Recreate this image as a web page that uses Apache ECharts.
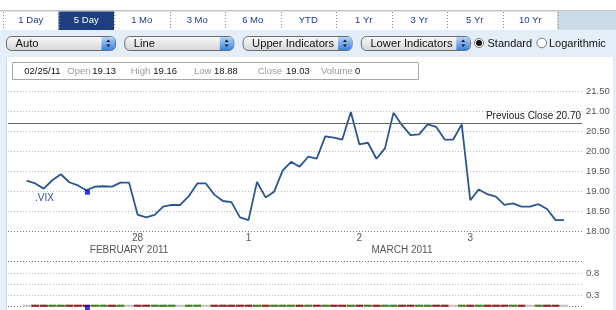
<!DOCTYPE html>
<html><head><meta charset="utf-8">
<script src="https://cdn.jsdelivr.net/npm/echarts@6/dist/echarts.min.js"></script>
<style>html,body{margin:0;padding:0;background:#fff}#c{width:616px;height:310px}</style>
</head><body><div id="c"></div><script>
// ---- data ----
const tabLabels = ['1 Day','5 Day','1 Mo','3 Mo','6 Mo','YTD','1 Yr','3 Yr','5 Yr','10 Yr'];
const activeTab = 1;
const dropdownLabels = ['Auto','Line','Upper Indicators','Lower Indicators'];
const radioLabels = ['Standard','Logarithmic'];
const quoteDate = '02/25/11';
const quoteLabels = ['Open','High','Low','Close','Volume'];
const quoteValues = ['19.13','19.16','18.88','19.03','0'];
const symbolName = '.VIX';
const closes = [19.27,19.20,19.07,19.28,19.43,19.23,19.15,19.03,19.12,19.13,19.12,19.22,19.22,
  18.42,18.35,18.41,18.62,18.66,18.66,18.88,19.20,19.20,18.92,18.76,18.73,18.35,
  18.28,19.24,18.85,18.99,19.52,19.74,19.62,19.87,19.82,20.38,20.35,20.30,20.99,
  20.18,20.22,19.82,20.08,20.97,20.66,20.41,20.43,20.68,20.62,20.30,20.30,20.68,
  18.78,19.05,18.93,18.87,18.66,18.70,18.62,18.62,18.68,18.56,18.28,18.28];
const volumes = [0,0,0,0,0,0,0,0,0,0,0,0,0,0,0,0,0,0,0,0,0,0,0,0,0,0,0,0,0,0,0,0,
  0,0,0,0,0,0,0,0,0,0,0,0,0,0,0,0,0,0,0,0,0,0,0,0,0,0,0,0,0,0,0,0];
const markerIndex = 7;
const markerValue = 19.03;
const prevClose = 20.70;
const dayLabels = ['28','1','2','3'];
const dayTickIdx = [13,26,39,52];
const monthLabels = ['FEBRUARY 2011','MARCH 2011'];
const monthTickIdx = [12,44];
const priceMin = 18, priceMax = 21.5, priceStep = 0.5;
const lowerTickLabels = ['','0.3','','0.8',''];

// ---- layout / style ----
const FF = 'Liberation Sans';
const G = [];
// top border & tab row
G.push({type:'rect', shape:{x:0,y:10,width:616,height:1.5}, style:{fill:'#c4c4c4'}});
G.push({type:'rect', shape:{x:557,y:11.5,width:59,height:19}, style:{fill:'#cbdce8'}});
// light blue panel
G.push({type:'rect', shape:{x:0,y:30,width:616,height:27}, style:{fill:'#e4eef9'}});
G.push({type:'rect', shape:{x:0,y:30,width:7,height:280}, style:{fill:'#e4eef9'}});
G.push({type:'rect', shape:{x:6,y:57,width:1,height:253}, style:{fill:'#cddcec'}});
G.push({type:'rect', shape:{x:613,y:30,width:3,height:280}, style:{fill:'#e4eef9'}});
const tabW = 55.5, tabX0 = 3;
tabLabels.forEach((t,i)=>{
  const x = tabX0 + tabW*i;
  if (i===activeTab) G.push({type:'rect', shape:{x:x,y:11.5,width:tabW,height:18.5}, style:{fill:'#1d3f7e'}});
  G.push({type:'text', x:x+tabW/2, y:20.5, style:{text:t, fontSize:9.5, fontFamily:FF, fill: i===activeTab?'#ffffff':'#1b3c8c', align:'center', verticalAlign:'middle'}});
});
for (let i=0;i<=tabLabels.length;i++){
  const x = Math.round(tabX0 + tabW*i)+0.5;
  G.push({type:'line', shape:{x1:x,y1:12,x2:x,y2:30}, style:{stroke:'#8a8a8a', lineWidth:1, lineDash:[1,2]}});
}
// dropdowns
dropdownLabels.forEach((t,i)=>{
  const x = 6.5 + 118.3*i, w = 109;
  G.push({type:'rect', shape:{x:x,y:36.5,width:w,height:14,r:5},
    style:{fill:new echarts.graphic.LinearGradient(0,0,0,1,[{offset:0,color:'#fbfbfb'},{offset:1,color:'#d4d4d4'}]), stroke:'#6c6c6c', lineWidth:1}});
  const bx = x+w-14;
  G.push({type:'rect', shape:{x:bx,y:37,width:13.5,height:13,r:[0,4,4,0]},
    style:{fill:new echarts.graphic.LinearGradient(0,0,0,1,[{offset:0,color:'#b5d5fa'},{offset:1,color:'#3c7fdf'}])}});
  const cx = bx+6.8;
  G.push({type:'polygon', shape:{points:[[cx-2,42],[cx+2,42],[cx,39.5]]}, style:{fill:'#1a1a1a'}});
  G.push({type:'polygon', shape:{points:[[cx-2,44.5],[cx+2,44.5],[cx,47]]}, style:{fill:'#1a1a1a'}});
  G.push({type:'text', x:x+9, y:43.5, style:{text:t, fontSize:11.2, fontFamily:FF, fill:'#111', verticalAlign:'middle'}});
});
// radios
G.push({type:'circle', shape:{cx:479,cy:43,r:4.5}, style:{fill:'#fff', stroke:'#777', lineWidth:1}});
G.push({type:'circle', shape:{cx:479,cy:43,r:3}, style:{fill:'#111'}});
G.push({type:'text', x:487.5, y:43.5, style:{text:radioLabels[0], fontSize:11, fontFamily:FF, fill:'#111', verticalAlign:'middle'}});
G.push({type:'circle', shape:{cx:541.7,cy:43,r:4.8}, style:{fill:'#fff', stroke:'#777', lineWidth:1}});
G.push({type:'text', x:549, y:43.5, style:{text:radioLabels[1], fontSize:11, fontFamily:FF, fill:'#111', verticalAlign:'middle'}});
// quote box
G.push({type:'rect', shape:{x:12.5,y:62.5,width:406,height:17}, style:{fill:'#fff', stroke:'#a8a8a8', lineWidth:1}});
G.push({type:'text', x:24.3, y:71, style:{text:quoteDate, fontSize:9.5, fontFamily:FF, fill:'#111', verticalAlign:'middle'}});
const qlx = [67.3,130.7,194,257.7,321], qvx = [92.3,153.3,214,286,355];
quoteLabels.forEach((l,i)=>{
  G.push({type:'text', x:qlx[i], y:71, style:{text:l, fontSize:9.5, fontFamily:FF, fill:'#9a9a9a', verticalAlign:'middle'}});
  G.push({type:'text', x:qvx[i], y:71, style:{text:quoteValues[i], fontSize:9.5, fontFamily:FF, fill:'#111', verticalAlign:'middle'}});
});
// symbol name
G.push({type:'text', x:35, y:198, style:{text:symbolName, fontSize:10, fontFamily:FF, fill:'#2a5590', verticalAlign:'middle'}});

const xMin = -2.19, xMax = 65.1;
const upColors = ['#777','#bbb','#bbb','#bbb','#bbb','#bbb','#bbb','#bbb'];
const volData = volumes.map((v,i)=>{
  let c = '#c8c8c8';
  if (i>0 && closes[i]>closes[i-1]) c = '#3f7a1c';
  else if (i>0 && closes[i]<closes[i-1]) c = '#8e1b1b';
  return {value:[i,v], itemStyle:{color:c}};
});

const chart = echarts.init(document.getElementById('c'), null, {renderer:'canvas'});
chart.setOption({
  animation:false,
  backgroundColor:'#ffffff',
  textStyle:{fontFamily:FF},
  graphic:G,
  grid:[
    {left:8, right:34, top:91.7, height:139.6},
    {left:8, right:34, top:261.7, height:45}
  ],
  xAxis:[
    {type:'value', gridIndex:0, min:xMin, max:xMax, axisLine:{show:false}, axisTick:{show:false}, splitLine:{show:false},
     axisLabel:{customValues:dayTickIdx, formatter:v=>dayLabels[dayTickIdx.indexOf(v)], color:'#555', fontSize:10, margin:2, fontFamily:FF}},
    {type:'value', gridIndex:0, position:'bottom', offset:12, min:xMin, max:xMax, axisLine:{show:false}, axisTick:{show:false}, splitLine:{show:false},
     axisLabel:{customValues:monthTickIdx, formatter:v=>monthLabels[monthTickIdx.indexOf(v)], color:'#555', fontSize:10, margin:2, fontFamily:FF}},
    {type:'value', gridIndex:1, min:xMin, max:xMax, show:false}
  ],
  yAxis:[
    {type:'value', gridIndex:0, position:'right', min:priceMin, max:priceMax, interval:priceStep,
     axisLine:{show:false}, axisTick:{show:false},
     axisLabel:{formatter:v=>v.toFixed(2), color:'#555', fontSize:9.5, margin:4, fontFamily:FF},
     splitLine:{show:true, lineStyle:{color:upColors, type:[1,2], width:1}}},
    {type:'value', gridIndex:1, position:'right', min:0, max:4, interval:1,
     axisLine:{show:false}, axisTick:{show:false},
     axisLabel:{formatter:v=>lowerTickLabels[v], color:'#555', fontSize:9.5, margin:4, fontFamily:FF},
     splitLine:{show:true, lineStyle:{color:['#777','#bbb','#bbb','#bbb','#777'], type:[1,2], width:1}}}
  ],
  series:[
    {type:'line', xAxisIndex:0, yAxisIndex:0, data:closes.map((v,i)=>[i,v]), symbol:'none',
     lineStyle:{color:'#2a5590', width:1.8}, z:3,
     markLine:{silent:true, symbol:['none','none'], data:[{yAxis:prevClose}],
       lineStyle:{color:'#666', width:1, type:'solid'},
       label:{formatter:'Previous Close '+prevClose.toFixed(2), position:'insideEndTop', color:'#222', fontSize:10, fontFamily:FF, distance:[1,2]}}},
    {type:'scatter', xAxisIndex:0, yAxisIndex:0, data:[[markerIndex, markerValue]], symbol:'rect', symbolSize:5, symbolOffset:[1,2],
     itemStyle:{color:'#0000ff'}, z:4},
    {type:'bar', xAxisIndex:2, yAxisIndex:1, data:volData, barWidth:8, barMinHeight:2, z:3},
    {type:'scatter', xAxisIndex:2, yAxisIndex:1, data:[[markerIndex, volumes[markerIndex]]], symbol:'rect', symbolSize:5, symbolOffset:[1,1],
     itemStyle:{color:'#0000ff'}, z:4}
  ]
});
</script></body></html>
